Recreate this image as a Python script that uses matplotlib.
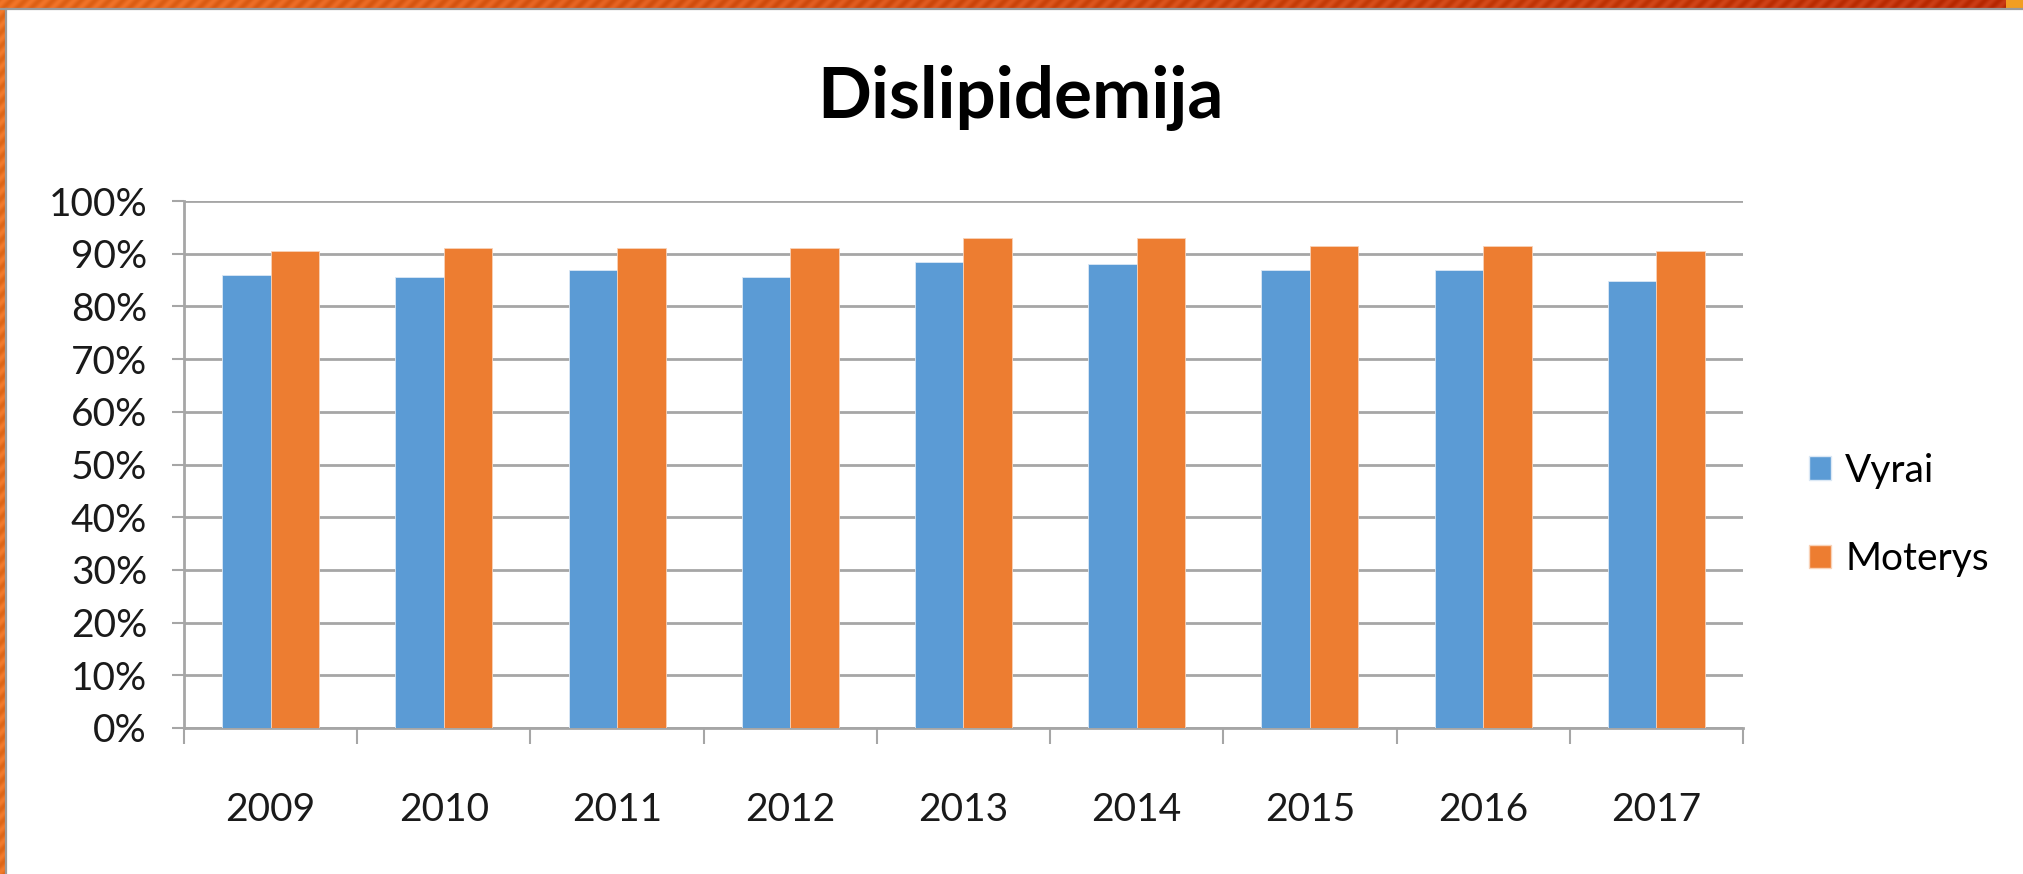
import numpy as np
import matplotlib
matplotlib.use("Agg")
import matplotlib.pyplot as plt
from matplotlib.patches import Patch

years = ["2009", "2010", "2011", "2012", "2013", "2014", "2015", "2016", "2017"]
vyrai = [86.0, 85.6, 86.9, 85.6, 88.5, 88.1, 86.9, 86.9, 84.8]
moterys = [90.5, 91.0, 91.0, 91.0, 93.0, 93.0, 91.4, 91.4, 90.5]
series_names = ["Vyrai", "Moterys"]
yticks = list(range(0, 101, 10))

BLUE = "#5B9BD5"
ORANGE = "#ED7D31"
GRID = "#A6A6A6"

plt.rcParams["font.family"] = ["Lato", "DejaVu Sans"]

W, H = 2023, 874
fig = plt.figure(figsize=(W / 100, H / 100), dpi=100)
fig.patch.set_facecolor("white")

# slide frame: striped gradient band on top, orange band on the left
top = fig.add_axes([0, 1 - 8 / H, 1, 8 / H])
xx, yy = np.meshgrid(np.arange(W), np.arange(8))
t = xx / W
stripe = 0.04 * np.sin((xx + yy) * 2 * np.pi / 14)
c0, c1 = np.array([0.91, 0.42, 0.12]), np.array([0.75, 0.19, 0.04])
img = (c0[None, None, :] * (1 - t[..., None]) + c1[None, None, :] * t[..., None]
       + stripe[..., None])
img[:, 2006:] = [0.95, 0.62, 0.13]
top.imshow(np.clip(img, 0, 1), aspect="auto")
top.axis("off")
fig.add_artist(plt.Line2D([0, 1], [1 - 9 / H, 1 - 9 / H], color="#9a9a9a",
                          lw=1.6, transform=fig.transFigure))

left = fig.add_axes([0, 0, 5 / W, 1 - 8 / H])
yy2, xx2 = np.meshgrid(np.arange(5), np.arange(H), indexing="xy")
limg = np.ones((H, 5, 3)) * np.array([0.91, 0.44, 0.13])
limg += (0.04 * np.sin((yy2 + xx2) * 2 * np.pi / 14))[..., None]
left.imshow(np.clip(limg, 0, 1), aspect="auto")
left.axis("off")
fig.add_artist(plt.Line2D([6 / W, 6 / W], [0, 1 - 9 / H], color="#9a9a9a",
                          lw=1.6, transform=fig.transFigure))

# chart area
ax = fig.add_axes([184 / W, 1 - 728 / H, (1743 - 184) / W, (728 - 201) / H])
x = np.arange(len(years))
bw = 0.28
ax.bar(x - bw / 2, vyrai, width=bw, color=BLUE, edgecolor="#dbe8f5",
       linewidth=0.6, label=series_names[0], zorder=3)
ax.bar(x + bw / 2, moterys, width=bw, color=ORANGE, edgecolor="#f8d2b8",
       linewidth=0.6, label=series_names[1], zorder=3)

ax.set_xlim(-0.5, len(years) - 0.5)
ax.set_ylim(0, 100)
ax.set_yticks(yticks)
ax.set_yticklabels([f"{v}%" for v in yticks])
ax.set_xticks(x)
ax.set_xticklabels(years)
ax.set_xticks(np.arange(-0.5, len(years)), minor=True)

ax.yaxis.grid(True, color=GRID, lw=2, zorder=0)
ax.set_axisbelow(True)
for s in ["top", "right"]:
    ax.spines[s].set_visible(False)
for s in ["left", "bottom"]:
    ax.spines[s].set_color(GRID)
    ax.spines[s].set_linewidth(2)

ax.tick_params(axis="y", length=8.6, width=1.5, color=GRID, pad=18,
               labelsize=28, labelcolor="#1a1a1a")
ax.tick_params(axis="x", which="major", length=0, pad=46, labelsize=28,
               labelcolor="#1a1a1a")
ax.tick_params(axis="x", which="minor", length=11.5, width=1.5, color=GRID)

handles = [Patch(facecolor=BLUE, edgecolor="#dbe8f5"),
           Patch(facecolor=ORANGE, edgecolor="#f8d2b8")]
ax.legend(handles, series_names, loc="center left",
          bbox_to_anchor=(1809 / W, 1 - 515 / H), bbox_transform=fig.transFigure,
          frameon=False, fontsize=28, handlelength=0.57, handleheight=0.57,
          handletextpad=0.36, labelspacing=1.35, borderpad=0, borderaxespad=0)

fig.text(1020 / W, 1 - 118 / H, "Dislipidemija", ha="center", va="baseline",
         fontsize=51, fontweight="bold", color="black")

fig.savefig("out.png", dpi=100)
